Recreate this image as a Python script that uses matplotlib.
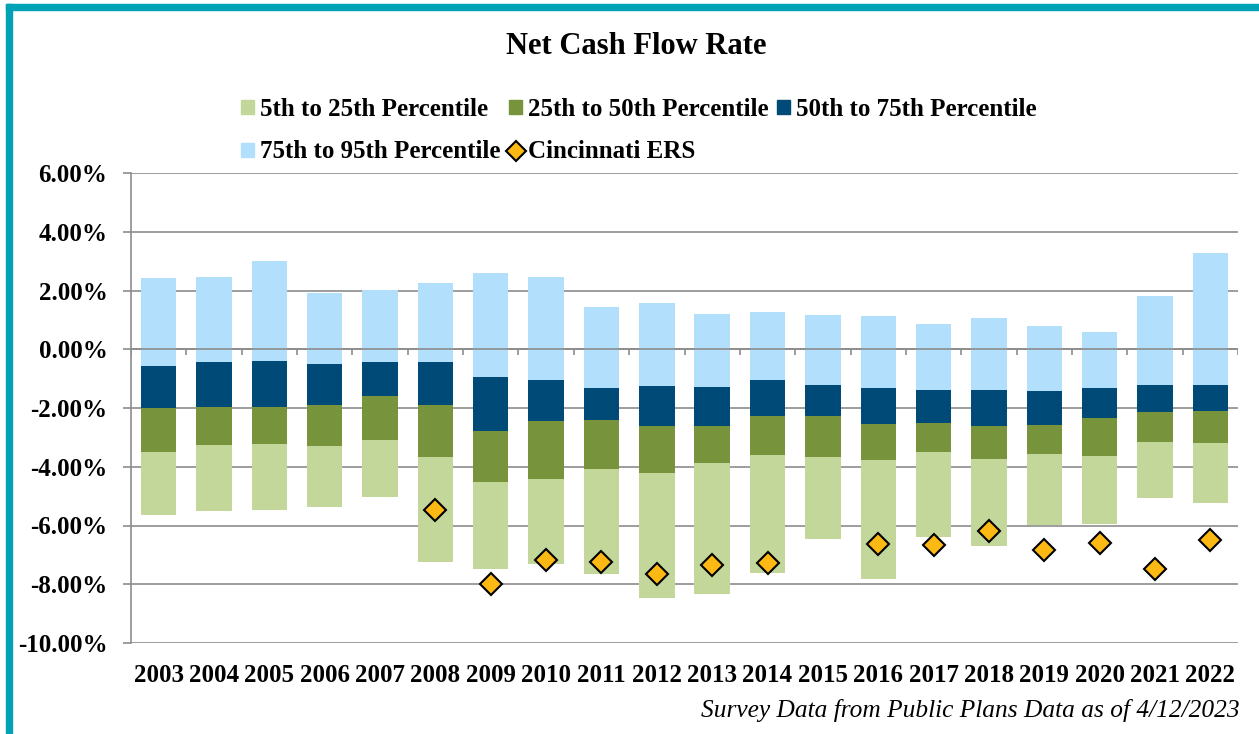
import matplotlib
matplotlib.use("Agg")
import matplotlib.pyplot as plt
import numpy as np
from matplotlib.patches import Patch, Rectangle
from matplotlib.lines import Line2D

plt.rcParams['font.family'] = ['Liberation Serif', 'DejaVu Serif']
plt.rcParams['font.weight'] = 'bold'

years = ['2003', '2004', '2005', '2006', '2007', '2008', '2009', '2010', '2011', '2012',
         '2013', '2014', '2015', '2016', '2017', '2018', '2019', '2020', '2021', '2022']

# percentile bounds (%)
p5 = [-5.64, -5.51, -5.47, -5.38, -5.02, -7.25, -7.49, -7.31, -7.65, -8.47,
      -8.34, -7.60, -6.46, -7.81, -6.38, -6.69, -5.98, -5.95, -5.05, -5.23]
p25 = [-3.50, -3.27, -3.23, -3.30, -3.10, -3.66, -4.51, -4.42, -4.08, -4.20,
       -3.88, -3.59, -3.68, -3.77, -3.51, -3.74, -3.58, -3.64, -3.16, -3.19]
p50 = [-2.00, -1.97, -1.98, -1.89, -1.60, -1.90, -2.79, -2.44, -2.42, -2.62,
       -2.60, -2.28, -2.26, -2.53, -2.52, -2.60, -2.58, -2.34, -2.15, -2.09]
p75 = [-0.56, -0.44, -0.41, -0.50, -0.42, -0.43, -0.95, -1.03, -1.32, -1.24,
       -1.28, -1.06, -1.20, -1.32, -1.40, -1.39, -1.41, -1.32, -1.21, -1.20]
p95 = [2.42, 2.46, 3.01, 1.91, 2.03, 2.26, 2.60, 2.46, 1.45, 1.58,
       1.20, 1.28, 1.18, 1.14, 0.85, 1.05, 0.80, 0.60, 1.80, 3.27]

# Cincinnati ERS (no value before 2008, none for 2015)
cinci = [np.nan, np.nan, np.nan, np.nan, np.nan, -5.46, -7.98, -7.16, -7.25, -7.64,
         -7.34, -7.27, np.nan, -6.64, -6.66, -6.20, -6.85, -6.61, -7.47, -6.50]

c_low = '#C4D79B'
c_mid = '#77933C'
c_dark = '#004A77'
c_top = '#B1DFFC'
c_diam = '#FDB913'
grid_c = '#8C8C8C'

p5, p25, p50, p75, p95 = map(np.array, (p5, p25, p50, p75, p95))
x = np.arange(len(years))
w = 0.64

fig = plt.figure(figsize=(12.59, 7.34), dpi=100)
ax = fig.add_axes([131/1259, 1 - 643/734, (1238-131)/1259, (643-173)/734])

ax.bar(x, p25 - p5, bottom=p5, width=w, color=c_low, zorder=3)
ax.bar(x, p50 - p25, bottom=p25, width=w, color=c_mid, zorder=3)
ax.bar(x, p75 - p50, bottom=p50, width=w, color=c_dark, zorder=3)
ax.bar(x, p95 - p75, bottom=p75, width=w, color=c_top, zorder=3)
ax.plot(x, cinci, linestyle='none', marker='D', markersize=11, markerfacecolor=c_diam,
        markeredgecolor='black', markeredgewidth=1.5, zorder=5)

ax.set_xlim(-0.5, len(years) - 0.5)
ax.set_ylim(-10, 6)
ax.set_yticks(np.arange(-10, 7, 2))
ax.set_yticklabels(['%.2f%%' % v for v in np.arange(-10, 7, 2)])
ax.yaxis.grid(True, color=grid_c, linewidth=1.2, zorder=0)
ax.set_axisbelow(True)

# zero axis line with ticks between categories
ax.axhline(0, color=grid_c, linewidth=1.2, zorder=4)
ax.vlines(np.arange(len(years) + 1) - 0.5, -0.2, 0, color=grid_c, linewidth=1.2, zorder=4)

ax.set_xticks(x)
ax.set_xticklabels(years)
ax.tick_params(axis='x', length=0, pad=15, labelsize=18)
ax.tick_params(axis='y', length=6, width=1.2, color=grid_c, pad=11, labelsize=18)
for s in ['top', 'right', 'bottom']:
    ax.spines[s].set_visible(False)
ax.spines['left'].set_color(grid_c)
ax.spines['left'].set_linewidth(1.2)

fig.text(636/1259, 1 - 47/734, 'Net Cash Flow Rate', ha='center', va='center',
         fontsize=22, fontweight='bold')

handles = [Patch(color=c_low, label='5th to 25th Percentile'),
           Patch(color=c_top, label='75th to 95th Percentile'),
           Patch(color=c_mid, label='25th to 50th Percentile'),
           Line2D([], [], linestyle='none', marker='D', markersize=10, markerfacecolor=c_diam,
                  markeredgecolor='black', markeredgewidth=1.5, label='Cincinnati ERS'),
           Patch(color=c_dark, label='50th to 75th Percentile')]
fig.legend(handles=handles, ncol=3, loc='upper center', bbox_to_anchor=(639/1259, 1 - 85/734),
           frameon=False, prop={'size': 18, 'weight': 'bold'}, handlelength=0.5,
           handleheight=0.5, handletextpad=0.25, columnspacing=0.35, labelspacing=0.8,
           borderpad=0)

fig.text(1240/1259, 1 - 711/734, 'Survey Data from Public Plans Data as of 4/12/2023',
         ha='right', va='center', fontsize=18.3, fontstyle='italic', fontweight='normal')

# teal frame on top and left
teal = '#00A3B6'
fig.patches.append(Rectangle((6/1259, 0), 6/1259, 1 - 4/734, transform=fig.transFigure,
                             color=teal, zorder=10))
fig.patches.append(Rectangle((6/1259, 1 - 10/734), 1 - 6/1259, 6/734, transform=fig.transFigure,
                             color=teal, zorder=10))

fig.savefig('out.png', dpi=100)
